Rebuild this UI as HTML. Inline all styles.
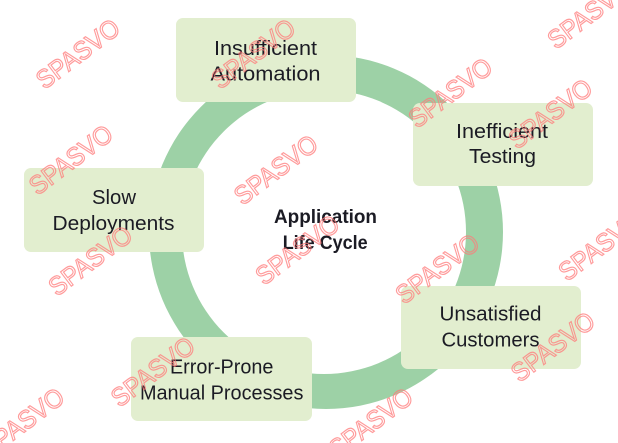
<!DOCTYPE html>
<html>
<head>
<meta charset="utf-8">
<style>
  html, body { margin: 0; padding: 0; background: #ffffff; }
  body { width: 618px; height: 443px; overflow: hidden; }
  svg { display: block; }
  .lbl { font-family: "Liberation Sans", "DejaVu Sans", sans-serif; font-size: 20px; fill: #1b1b24; }
  .ctr { font-family: "Liberation Sans", "DejaVu Sans", sans-serif; font-size: 19px; font-weight: bold; fill: #1b1b24; }
  .wm { font-family: "Liberation Sans", "DejaVu Sans", sans-serif; font-size: 26px; fill: none; stroke: #ff7a7a; stroke-width: 1.2; stroke-opacity: 0.75; }
</style>
</head>
<body>
<svg width="618" height="443" viewBox="0 0 618 443" xmlns="http://www.w3.org/2000/svg">
  <!-- ring -->
  <path fill="#9dd1a6" fill-rule="evenodd"
    d="M 149 232 A 177 177 0 1 0 503 232 A 177 177 0 1 0 149 232 Z
       M 182 232 A 142 142 0 1 1 466 232 A 142 142 0 1 1 182 232 Z"/>

  <!-- boxes -->
  <g fill="#e2eecf">
    <rect x="176" y="18" width="180" height="84" rx="7"/>
    <rect x="413" y="103" width="180" height="83" rx="7"/>
    <rect x="24" y="168" width="180" height="84" rx="7"/>
    <rect x="401" y="286" width="180" height="83" rx="7"/>
    <rect x="131" y="337" width="181" height="84" rx="7"/>
  </g>

  <!-- labels -->
  <g text-anchor="middle">
    <text class="lbl" x="265.5" y="55" textLength="103" lengthAdjust="spacingAndGlyphs">Insufficient</text>
    <text class="lbl" x="265.5" y="80.7" textLength="110" lengthAdjust="spacingAndGlyphs">Automation</text>

    <text class="lbl" x="502" y="138" textLength="92" lengthAdjust="spacingAndGlyphs">Inefficient</text>
    <text class="lbl" x="502.5" y="163" textLength="67" lengthAdjust="spacingAndGlyphs">Testing</text>

    <text class="lbl" x="114" y="204" textLength="44" lengthAdjust="spacingAndGlyphs">Slow</text>
    <text class="lbl" x="113.5" y="230" textLength="122" lengthAdjust="spacingAndGlyphs">Deployments</text>

    <text class="ctr" x="325.5" y="223" textLength="103" lengthAdjust="spacingAndGlyphs">Application</text>
    <text class="ctr" x="325.2" y="249" textLength="85" lengthAdjust="spacingAndGlyphs">Life Cycle</text>

    <text class="lbl" x="490.5" y="320.7" textLength="102" lengthAdjust="spacingAndGlyphs">Unsatisfied</text>
    <text class="lbl" x="490.5" y="346.7" textLength="98" lengthAdjust="spacingAndGlyphs">Customers</text>

    <text class="lbl" x="221.7" y="373.3" textLength="103.5" lengthAdjust="spacingAndGlyphs">Error-Prone</text>
    <text class="lbl" x="221.7" y="399.3" textLength="163.5" lengthAdjust="spacingAndGlyphs">Manual Processes</text>
  </g>

  <!-- watermarks -->
  <g>
    <text class="wm" transform="translate(44.5,90) rotate(-37)" textLength="97" lengthAdjust="spacingAndGlyphs">SPASVO</text>
    <text class="wm" transform="translate(220,90) rotate(-37)" textLength="97" lengthAdjust="spacingAndGlyphs">SPASVO</text>
    <text class="wm" transform="translate(556,50) rotate(-37)" textLength="97" lengthAdjust="spacingAndGlyphs">SPASVO</text>
    <text class="wm" transform="translate(417,129) rotate(-37)" textLength="97" lengthAdjust="spacingAndGlyphs">SPASVO</text>
    <text class="wm" transform="translate(517,150) rotate(-37)" textLength="97" lengthAdjust="spacingAndGlyphs">SPASVO</text>
    <text class="wm" transform="translate(37.5,196) rotate(-37)" textLength="97" lengthAdjust="spacingAndGlyphs">SPASVO</text>
    <text class="wm" transform="translate(242.5,206) rotate(-37)" textLength="97" lengthAdjust="spacingAndGlyphs">SPASVO</text>
    <text class="wm" transform="translate(57,297) rotate(-37)" textLength="97" lengthAdjust="spacingAndGlyphs">SPASVO</text>
    <text class="wm" transform="translate(264,286) rotate(-37)" textLength="97" lengthAdjust="spacingAndGlyphs">SPASVO</text>
    <text class="wm" transform="translate(404,305) rotate(-37)" textLength="97" lengthAdjust="spacingAndGlyphs">SPASVO</text>
    <text class="wm" transform="translate(567,282) rotate(-37)" textLength="97" lengthAdjust="spacingAndGlyphs">SPASVO</text>
    <text class="wm" transform="translate(519.5,383) rotate(-37)" textLength="97" lengthAdjust="spacingAndGlyphs">SPASVO</text>
    <text class="wm" transform="translate(119.5,408) rotate(-37)" textLength="97" lengthAdjust="spacingAndGlyphs">SPASVO</text>
    <text class="wm" transform="translate(-11,459) rotate(-37)" textLength="97" lengthAdjust="spacingAndGlyphs">SPASVO</text>
    <text class="wm" transform="translate(337.5,459) rotate(-37)" textLength="97" lengthAdjust="spacingAndGlyphs">SPASVO</text>
  </g>
</svg>
</body>
</html>
